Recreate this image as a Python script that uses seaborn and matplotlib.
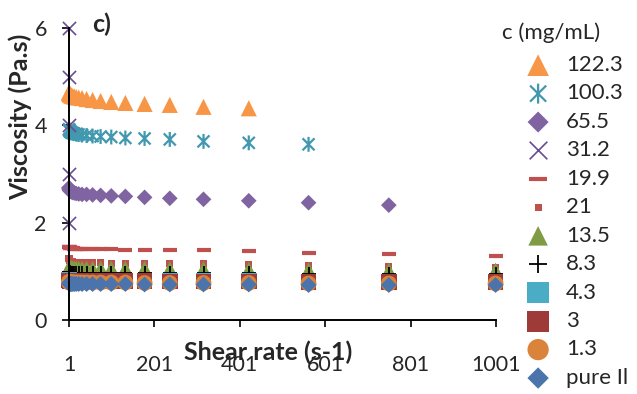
import numpy as np
import pandas as pd
import seaborn as sns
import matplotlib
matplotlib.use("Agg")
from matplotlib import pyplot as plt
from matplotlib.path import Path
from matplotlib.markers import MarkerStyle

# Shear rates (s-1), log spaced as measured
shear_rate = [1, 1.33, 1.78, 2.37, 3.16, 4.22, 5.62, 7.5, 10, 13.3, 17.8, 23.7, 31.6,
              42.2, 56.2, 75, 100, 133, 178, 237, 316, 422, 562, 750, 1000]

# Viscosity (Pa.s) for each concentration
visc_122_3 = [4.68, 4.67, 4.66, 4.65, 4.64, 4.63, 4.62, 4.61, 4.60, 4.59, 4.58, 4.57, 4.56,
              4.54, 4.52, 4.50, 4.48, 4.46, 4.44, 4.42, 4.38, 4.35]
visc_100_3 = [3.92, 3.91, 3.90, 3.89, 3.88, 3.87, 3.86, 3.85, 3.84, 3.83, 3.82, 3.81, 3.80,
              3.79, 3.78, 3.77, 3.76, 3.74, 3.73, 3.71, 3.67, 3.64, 3.61]
visc_65_5 = [2.72, 2.70, 2.68, 2.67, 2.66, 2.65, 2.64, 2.63, 2.62, 2.61, 2.60, 2.59, 2.58,
             2.58, 2.57, 2.56, 2.55, 2.54, 2.52, 2.50, 2.48, 2.45, 2.41, 2.36]
shear_31_2 = [1, 1, 1, 1, 1]
visc_31_2 = [6, 5, 4, 3, 2]
visc_19_9 = [1.50, 1.50, 1.49, 1.49, 1.48, 1.48, 1.47, 1.47, 1.47, 1.46, 1.46, 1.46, 1.46,
             1.45, 1.45, 1.45, 1.45, 1.44, 1.44, 1.44, 1.43, 1.42, 1.38, 1.36, 1.32]
visc_21 = [1.27, 1.25, 1.24, 1.23, 1.22, 1.21, 1.21, 1.20, 1.20, 1.19, 1.19, 1.19, 1.18,
           1.18, 1.18, 1.18, 1.17, 1.17, 1.17, 1.16, 1.15, 1.14, 1.11, 1.09, 1.08]
visc_13_5 = [1.09, 1.09, 1.08, 1.08, 1.08, 1.08, 1.08, 1.07, 1.07, 1.07, 1.07, 1.07, 1.07,
             1.07, 1.07, 1.07, 1.07, 1.07, 1.07, 1.06, 1.06, 1.05, 1.04, 1.03, 1.03]
visc_8_3 = [0.98, 0.98, 0.98, 0.98, 0.97, 0.97, 0.97, 0.97, 0.97, 0.97, 0.97, 0.97, 0.97,
            0.97, 0.97, 0.97, 0.97, 0.97, 0.97, 0.96, 0.96, 0.96, 0.95, 0.95, 0.95]
visc_4_3 = [0.82, 0.82, 0.82, 0.81, 0.81, 0.81, 0.81, 0.81, 0.81, 0.81, 0.81, 0.81, 0.81,
            0.81, 0.81, 0.81, 0.81, 0.81, 0.81, 0.80, 0.80, 0.80, 0.79, 0.79, 0.79]
visc_3 = [0.81, 0.81, 0.81, 0.80, 0.80, 0.80, 0.80, 0.80, 0.80, 0.80, 0.80, 0.80, 0.80,
          0.80, 0.80, 0.80, 0.80, 0.80, 0.80, 0.79, 0.79, 0.79, 0.78, 0.78, 0.78]
visc_1_3 = [0.78, 0.78, 0.78, 0.77, 0.77, 0.77, 0.77, 0.77, 0.77, 0.77, 0.77, 0.77, 0.77,
            0.77, 0.77, 0.77, 0.77, 0.77, 0.76, 0.76, 0.76, 0.76, 0.75, 0.75, 0.75]
visc_pure = [0.75, 0.75, 0.75, 0.74, 0.74, 0.74, 0.74, 0.74, 0.74, 0.74, 0.74, 0.74, 0.74,
             0.74, 0.74, 0.74, 0.74, 0.74, 0.73, 0.73, 0.73, 0.73, 0.72, 0.72, 0.72]

x_ticks = [1, 201, 401, 601, 801, 1001]
y_ticks = [0, 2, 4, 6]

# Excel style asterisk (X plus vertical bar)
asterisk = Path([(-0.5, -0.5), (0.5, 0.5), (-0.5, 0.5), (0.5, -0.5), (0, -0.62), (0, 0.62)],
                [Path.MOVETO, Path.LINETO, Path.MOVETO, Path.LINETO, Path.MOVETO, Path.LINETO])

# label, x, y, marker, size (pt^2), colour, linewidth
series = [
    ("122.3", shear_rate[:len(visc_122_3)], visc_122_3, "^", 135, "#F79646", 0),
    ("100.3", shear_rate[:len(visc_100_3)], visc_100_3, MarkerStyle(asterisk, fillstyle="none"), 115, "#4198AF", 1.6),
    ("65.5", shear_rate[:len(visc_65_5)], visc_65_5, "D", 64, "#8064A2", 0),
    ("31.2", shear_31_2, visc_31_2, "x", 90, "#6A4C93", 1.2),
    ("19.9", shear_rate, visc_19_9, "_", 100, "#C0504D", 3.0),
    ("21", shear_rate, visc_21, "s", 26, "#C0504D", 0),
    ("13.5", shear_rate, visc_13_5, "^", 110, "#7F9C45", 0),
    ("8.3", shear_rate, visc_8_3, "+", 90, "#000000", 1.3),
    ("4.3", shear_rate, visc_4_3, "s", 130, "#4BACC6", 0),
    ("3", shear_rate, visc_3, "s", 130, "#9E3B38", 0),
    ("1.3", shear_rate, visc_1_3, "o", 130, "#D9843A", 0),
    ("pure Il", shear_rate, visc_pure, "D", 66, "#4A74AB", 0),
]

sns.set_style("white")
plt.rcParams["font.family"] = ["Lato", "DejaVu Sans"]

fig = plt.figure(figsize=(6.37, 3.94), dpi=100)
ax = fig.add_axes([69 / 637, 74 / 394, 427 / 637, 292 / 394])

for label, xs, ys, marker, size, col, lw in series:
    df = pd.DataFrame({"shear": xs, "visc": ys})
    kw = dict(edgecolor="none") if lw == 0 else dict(linewidth=lw)
    sns.scatterplot(data=df, x="shear", y="visc", marker=marker, s=size, color=col,
                    label=label, ax=ax, clip_on=False, **kw)

ax.set_xlim(1, 1001)
ax.set_ylim(0, 6)
ax.set_xticks(x_ticks)
ax.set_yticks(y_ticks)
for s in ["top", "right"]:
    ax.spines[s].set_visible(False)
for s in ["left", "bottom"]:
    ax.spines[s].set_color("black")
    ax.spines[s].set_linewidth(1.4)
ax.tick_params(axis="both", direction="out", length=5, width=1.2, color="black",
               labelsize=15.5, left=True, bottom=True)
ax.tick_params(axis="x", pad=20)
ax.tick_params(axis="y", pad=11)

ax.set_xlabel("Shear rate (s-1)", fontsize=18, fontweight="bold")
ax.xaxis.set_label_coords(0.466, -0.11)
ax.xaxis.label.set_va("center")
ax.set_ylabel("Viscosity (Pa.s)", fontsize=18, fontweight="bold")
ax.yaxis.set_label_coords(-0.115, 0.695)
ax.yaxis.label.set_va("center")

fig.text(102 / 637, 1 - 24 / 394, "c)", fontsize=18, fontweight="bold", ha="center", va="center")
fig.text(551 / 637, 1 - 33 / 394, "c (mg/mL)", fontsize=16, ha="center", va="center")

leg = ax.legend(loc="upper left", bbox_to_anchor=(527 / 637, 1 - 55 / 394),
                bbox_transform=fig.transFigure, frameon=False, fontsize=16,
                handletextpad=0.75, labelspacing=0.38, borderaxespad=0, borderpad=0,
                handlelength=1.0)
for h, (label, *_rest) in zip(leg.legend_handles, series):
    if label != "21":
        h.set_sizes(h.get_sizes() * 1.8)

fig.savefig("out.png", dpi=100)
